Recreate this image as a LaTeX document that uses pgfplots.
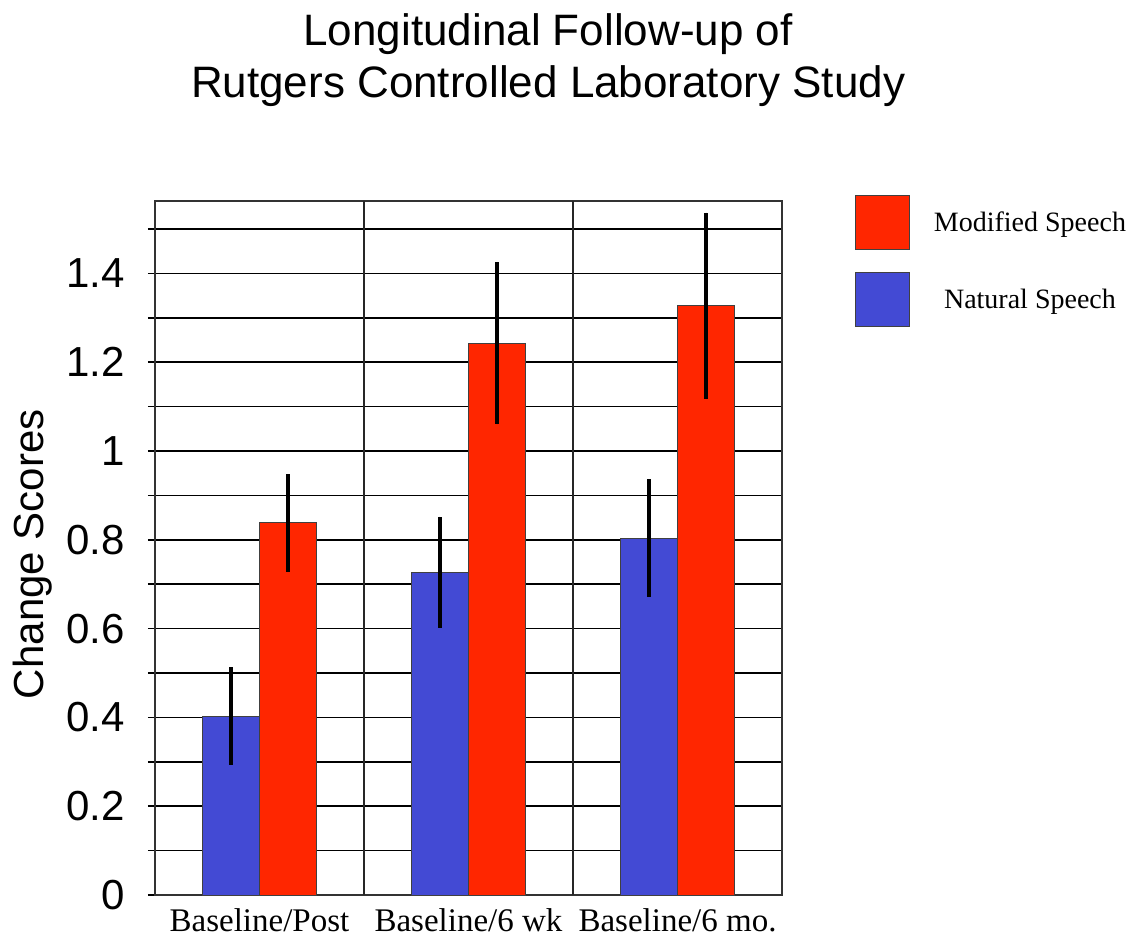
\documentclass[border=0pt]{standalone}
\usepackage{fontspec}
\usepackage{pgfplots}
\pgfplotsset{compat=1.18}
\newfontfamily\sansf{Liberation Sans}
\newfontfamily\seriff{Liberation Serif}
\definecolor{natblue}{RGB}{67,74,212}
\definecolor{modred}{RGB}{255,38,0}

\begin{document}
\begin{tikzpicture}
\begin{axis}[
    name=ax,
    scale only axis,
    width=627bp, height=694bp,
    ybar, bar width=0.272,
    xmin=-0.5, xmax=2.5,
    ymin=0, ymax=1.563,
    xtick={0,1,2},
    xticklabels={Baseline/Post, Baseline/6 wk, Baseline/6 mo.},
    xticklabel style={font=\seriff\fontsize{33bp}{38bp}\selectfont, yshift=-3bp},
    x tick style={draw=none},
    ytick={0,0.2,0.4,0.6,0.8,1,1.2,1.4},
    minor ytick={0.1,0.3,0.5,0.7,0.9,1.1,1.3,1.5},
    ytick pos=left,
    tick align=center,
    major tick length=14bp, minor tick length=14bp,
    y tick style={black, line width=1.5bp},
    /pgf/number format/assume math mode=true,
    yticklabel style={font=\sansf\fontsize{42bp}{48bp}\selectfont, xshift=-20bp},
    ymajorgrids, yminorgrids,
    major grid style={black, line width=1.5bp},
    minor grid style={black, line width=1.5bp},
    extra x ticks={0.5,1.5},
    extra x tick labels={},
    extra x tick style={grid=major, major grid style={black!85, line width=2bp}, tick style={draw=none}},
    axis line style={black!80, line width=1.5bp},
    title={Longitudinal Follow-up of\\Rutgers Controlled Laboratory Study},
    title style={at={(axis description cs:0.627,1)}, anchor=south, yshift=88bp, align=center,
        inner sep=0pt, font=\sansf\fontsize{44bp}{52bp}\selectfont},
    ylabel={Change Scores},
    ylabel style={font=\sansf\fontsize{42bp}{48bp}\selectfont, at={(axis description cs:-0.163,0.491)}, anchor=south, inner sep=0pt},
    legend image code/.code={
        \draw[#1, draw=black!75, line width=1bp] (0bp,-27bp) rectangle (54bp,27bp);
        \path (76bp,0bp);},
    reverse legend,
    legend cell align=center,
    legend style={at={(axis description cs:1.116,1.0)}, anchor=north west, yshift=6bp,
        draw=none, fill=none, inner sep=0pt, row sep=22bp,
        font=\seriff\fontsize{28bp}{32bp}\selectfont},
]

% Natural speech
\addplot[bar shift=-0.137, fill=natblue, draw=black!75, line width=1bp,
    error bars/.cd, y dir=both, y explicit, error mark=none,
    error bar style={line width=4.5bp, black}]
    coordinates {(0,0.403) +- (0,0.11) (1,0.727) +- (0,0.125) (2,0.804) +- (0,0.132)};
\addlegendentry{Natural Speech}

% Modified speech
\addplot[bar shift=0.137, fill=modred, draw=black!75, line width=1bp,
    error bars/.cd, y dir=both, y explicit, error mark=none,
    error bar style={line width=4.5bp, black}]
    coordinates {(0,0.838) +- (0,0.11) (1,1.243) +- (0,0.183) (2,1.327) +- (0,0.21)};
\addlegendentry{Modified Speech}
\end{axis}
% page frame with the reference's margins round the axis box
\path ([xshift=-155bp, yshift=-43bp]ax.south west) rectangle ([xshift=354bp, yshift=201bp]ax.north east);
\end{tikzpicture}
\end{document}
